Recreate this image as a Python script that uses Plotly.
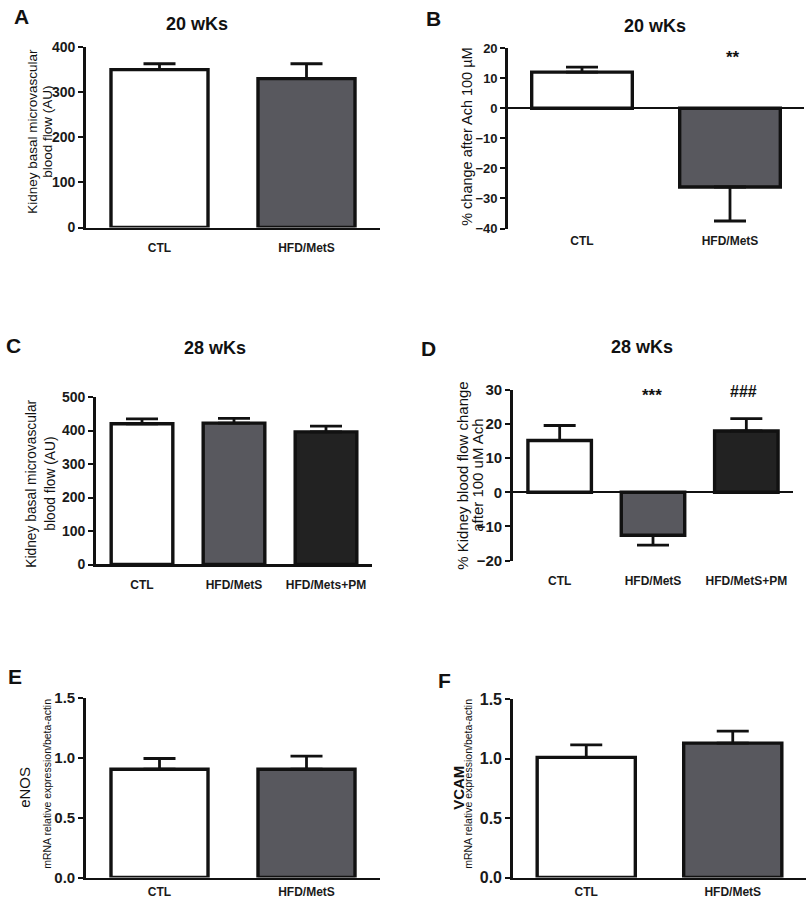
import plotly.graph_objects as go

W, H = 806, 900

# ---------------- data ----------------
cats_2 = ["CTL", "HFD/MetS"]
cats_c = ["CTL", "HFD/MetS", "HFD/Mets+PM"]
cats_d = ["CTL", "HFD/MetS", "HFD/MetS+PM"]

a_vals = [350, 330]
a_err = [13, 33]

b_vals = [12, -26.2]
b_err = [1.7, 11.3]

c_vals = [420, 422, 396]
c_err = [15, 14, 17]

d_vals = [15.2, -12.6, 18.0]
d_err = [4.4, 2.9, 3.6]

e_vals = [0.905, 0.905]
e_err = [0.09, 0.11]

f_vals = [1.01, 1.13]
f_err = [0.105, 0.10]

fill2 = ["#ffffff", "#58585e"]
fill3 = ["#ffffff", "#58585e", "#222222"]

FONT = "Liberation Sans, Arial, sans-serif"

# the photographed page is squeezed a little vertically; compensate
SY, OY = 0.983, 6.8


def px(x):
    return x / W


def py(y):
    return 1 - ((y - OY) / SY) / H


fig = go.Figure()


def add_bars(idx, cats, vals, errs, fills, gap):
    xa = "x" if idx == 1 else f"x{idx}"
    ya = "y" if idx == 1 else f"y{idx}"
    up = [e if v >= 0 else 0 for v, e in zip(vals, errs)]
    down = [0 if v >= 0 else e for v, e in zip(vals, errs)]
    fig.add_trace(go.Bar(
        x=cats, y=vals, xaxis=xa, yaxis=ya, width=1 - gap,
        marker=dict(color=fills, line=dict(color="#111111", width=3.4)),
        error_y=dict(type="data", symmetric=False, array=up, arrayminus=down,
                     color="#111111", thickness=2.8, width=16),
        showlegend=False, hoverinfo="skip",
    ))


add_bars(1, cats_2, a_vals, a_err, fill2, 0.34)
add_bars(2, cats_2, b_vals, b_err, fill2, 0.32)
add_bars(3, cats_c, c_vals, c_err, fill3, 0.33)
add_bars(4, cats_d, d_vals, d_err, fill3, 0.32)
add_bars(5, cats_2, e_vals, e_err, fill2, 0.34)
add_bars(6, cats_2, f_vals, f_err, fill2, 0.33)

# panel geometry in pixels: (x0, x1, ytop, ybottom)
geo = {
    1: (86, 380, 45, 226),
    2: (508, 804, 46, 227),
    3: (96, 372, 396, 564),
    4: (513, 793, 389, 560),
    5: (86, 380, 698, 878),
    6: (513, 806, 699, 878),
}
yr = {1: [0, 400], 2: [-40, 20], 3: [0, 500], 4: [-20, 30], 5: [0, 1.5], 6: [0, 1.5]}
dt = {1: 100, 2: 10, 3: 100, 4: 10, 5: 0.5, 6: 0.5}
xpad = {1: 7, 2: 1, 3: 7, 4: 9, 5: 1, 6: 1}
ytf = {1: 14, 2: 13, 3: 14, 4: 15, 5: 15, 6: 16}

layout = dict(
    width=W, height=H, margin=dict(l=0, r=0, t=0, b=0),
    paper_bgcolor="white", plot_bgcolor="white",
    font=dict(family=FONT, color="#111111"),
)

for i in range(1, 7):
    x0, x1, yt, yb = geo[i]
    xk = "xaxis" if i == 1 else f"xaxis{i}"
    yk = "yaxis" if i == 1 else f"yaxis{i}"
    negative = i in (2, 4)
    layout[xk] = dict(
        domain=[px(x0), px(x1)], anchor="y" if i == 1 else f"y{i}",
        showline=not negative, linecolor="#111111", linewidth=2.8,
        ticks="outside", ticklen=xpad[i], tickcolor="rgba(0,0,0,0)",
        showgrid=False, zeroline=False,
        tickfont=dict(size=12, family=FONT, color="#1a1a1a", weight="bold"),
        fixedrange=True,
    )
    layout[yk] = dict(
        domain=[py(yb), py(yt)], anchor="x" if i == 1 else f"x{i}",
        range=yr[i], dtick=dt[i], tick0=0,
        showline=True, linecolor="#111111", linewidth=2.8,
        ticks="outside", ticklen=5, tickwidth=2, tickcolor="#111111",
        showgrid=False,
        zeroline=negative, zerolinecolor="#111111", zerolinewidth=2.2,
        tickfont=dict(size=ytf[i], family=FONT, color="#1a1a1a", weight="bold"),
        tickformat=".1f" if i in (5, 6) else None,
        fixedrange=True,
    )

fig.update_layout(**layout)

ann = []


def text(x, y, s, size, bold=False, angle=0):
    ann.append(dict(
        x=px(x), y=py(y), xref="paper", yref="paper", showarrow=False,
        text=s, textangle=angle,
        font=dict(size=size, family=FONT, color="#111111",
                  weight="bold" if bold else "normal"),
        xanchor="center", yanchor="middle",
    ))


# panel letters
text(21, 14, "A", 21, bold=True)
text(433, 16, "B", 21, bold=True)
text(13, 344, "C", 21, bold=True)
text(428, 347, "D", 21, bold=True)
text(15, 676, "E", 21, bold=True)
text(444, 680, "F", 21, bold=True)

# titles
text(197, 22, "20 wKs", 18, bold=True)
text(655, 24, "20 wKs", 18, bold=True)
text(215, 347, "28 wKs", 18, bold=True)
text(642, 346, "28 wKs", 18, bold=True)

# y titles
text(33, 130, "Kidney basal microvascular", 13.5, angle=-90)
text(48, 130, "blood flow (AU)", 13.5, angle=-90)
text(467, 135, "% change after Ach 100 µM", 14.5, angle=-90)
text(32, 483, "Kidney basal microvascular", 13.8, angle=-90)
text(51, 483, "blood flow (AU)", 13.8, angle=-90)
text(463, 475, "% Kidney blood flow change", 15, angle=-90)
text(478, 475, "after 100 uM Ach", 15, angle=-90)
text(25, 788, "eNOS", 15, angle=-90)
text(47, 784, "mRNA relative expression/beta-actin", 10.5, angle=-90)
text(459, 788, "VCAM", 15, bold=True, angle=-90)
text(468, 784, "mRNA relative expression/beta-actin", 10.5, angle=-90)

# significance marks
text(733, 55, "**", 17, bold=True)
text(652, 394, "***", 17, bold=True)
text(743, 390, "###", 16, bold=True)

fig.update_layout(annotations=ann)
fig.write_html(
    "out.html",
    config={"displayModeBar": False, "staticPlot": True},
    post_script="document.body.style.margin='0';document.body.style.overflow='hidden';",
)
